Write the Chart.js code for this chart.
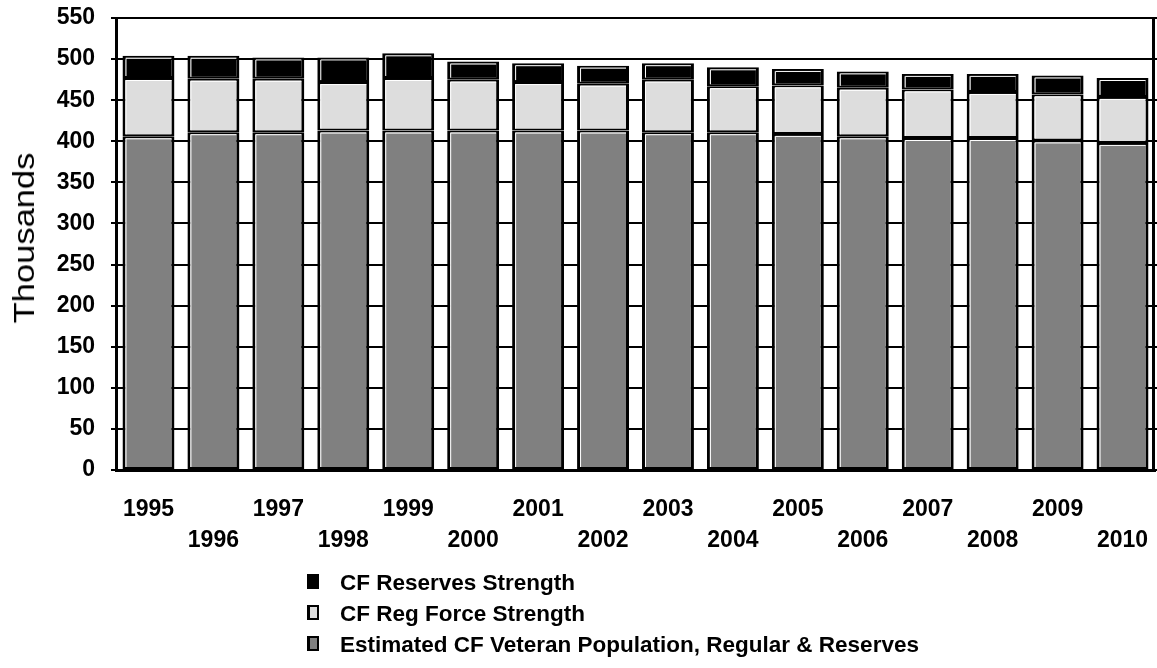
<!DOCTYPE html>
<html>
<head>
<meta charset="utf-8">
<title>CF Veteran Population and CF Strength, 1995–2010</title>
<script src="https://cdn.jsdelivr.net/npm/chart.js@4/dist/chart.umd.min.js"></script>
<style>
  html, body { margin: 0; padding: 0; background: #fff; overflow: hidden; }
  body { width: 1157px; height: 668px; position: relative; font-family: 'Liberation Sans', Arial, sans-serif; }
  #wrap { position: absolute; left: 0; top: 0; width: 1157px; height: 668px; }
  #wrap canvas { display: block; }
  #ytitle { position: absolute; left: 24px; top: 238px; font-size: 30px; line-height: 30px; white-space: nowrap; color: #000;
            transform: translate(-50%, -50%) rotate(-90deg) scaleX(1.15); }
  .lg-row { position: absolute; left: 307px; height: 22px; display: flex; align-items: center; white-space: nowrap; }
  .lg-box { box-sizing: border-box; width: 12px; height: 15px; border: 2px solid #000; border-left-width: 3px; margin-top: -3px; }
  .lg-text { position: absolute; left: 33px; top: 0; font-size: 22.5px; line-height: 22px; font-weight: bold; color: #000; }
</style>
</head>
<body>
<div id="wrap"><canvas id="chart"></canvas></div>
<div id="legend"></div>
<div id="ytitle">Thousands</div>
<script>
// Years on the category axis
const years = [1995, 1996, 1997, 1998, 1999, 2000, 2001, 2002, 2003, 2004, 2005, 2006, 2007, 2008, 2009, 2010];

// Thousands of people per year (stacked bottom to top)
const veteranPopulation = [406, 411, 411, 413, 413, 413, 413, 413, 411, 411, 409, 406, 404, 404, 401, 398];
const regForceStrength  = [71, 65, 65, 59, 64, 62, 59, 57, 64, 56, 59, 59, 59, 56, 56, 56];
const reservesStrength  = [27, 28, 26, 30, 30, 22, 23, 22, 20, 23, 20, 20, 19, 22, 23, 23];

// Value axis ticks
const yTicks = [0, 50, 100, 150, 200, 250, 300, 350, 400, 450, 500, 550];

const FONT = "'Liberation Sans', Arial, sans-serif";

// White inner highlight along the top and left edge of each bar segment
const bevelPlugin = {
  id: 'bevel',
  afterDatasetsDraw(chart) {
    const ctx = chart.ctx;
    ctx.save();
    ctx.strokeStyle = '#ffffff';
    ctx.lineWidth = 1;
    chart.data.datasets.forEach((ds, i) => {
      chart.getDatasetMeta(i).data.forEach(bar => {
        const p = bar.getProps(['x', 'y', 'base', 'width'], true);
        const left = p.x - p.width / 2, right = p.x + p.width / 2;
        const top = Math.min(p.y, p.base), bottom = Math.max(p.y, p.base);
        ctx.beginPath();
        ctx.moveTo(left + 3.5, bottom - 2);
        ctx.lineTo(left + 3.5, top + 2.5);
        ctx.lineTo(right - 3, top + 2.5);
        ctx.stroke();
      });
    });
    ctx.restore();
  }
};

// Closes the plot box on the right and lets grid lines poke through it
const framePlugin = {
  id: 'frame',
  afterDraw(chart) {
    const { ctx, chartArea: a, scales } = chart;
    const y = scales.y;
    ctx.save();
    ctx.strokeStyle = '#000';
    ctx.lineWidth = 2;
    ctx.beginPath();
    y.ticks.forEach(t => {
      const py = Math.round(y.getPixelForValue(t.value));
      ctx.moveTo(a.right - 2, py);
      ctx.lineTo(a.right + 2, py);
    });
    ctx.stroke();
    ctx.lineWidth = 3;
    ctx.beginPath();
    ctx.moveTo(a.right - 1.5, a.top);
    ctx.lineTo(a.right - 1.5, a.bottom);
    ctx.stroke();
    ctx.restore();
  }
};

const segStyle = {
  borderColor: '#000000',
  borderWidth: { top: 2, bottom: 2, left: 3, right: 3 },
  borderSkipped: false,
  categoryPercentage: 1.0,
  barPercentage: 0.8
};

const chart = new Chart(document.getElementById('chart'), {
  type: 'bar',
  data: {
    labels: years.map(String),
    datasets: [
      Object.assign({ label: 'Estimated CF Veteran Population, Regular & Reserves', data: veteranPopulation, backgroundColor: '#808080' }, segStyle),
      Object.assign({ label: 'CF Reg Force Strength', data: regForceStrength, backgroundColor: '#dddddd' }, segStyle),
      Object.assign({ label: 'CF Reserves Strength', data: reservesStrength, backgroundColor: '#000000' }, segStyle)
    ]
  },
  options: {
    responsive: true,
    maintainAspectRatio: false,
    devicePixelRatio: 1,
    animation: false,
    layout: { padding: { top: 18, right: 2, bottom: 78, left: 0 } },
    plugins: {
      legend: { display: false },
      tooltip: { enabled: false }
    },
    scales: {
      x: {
        stacked: true,
        grid: { display: false, drawTicks: false },
        border: { display: true, color: '#000', width: 3 },
        ticks: {
          autoSkip: false,
          maxRotation: 0,
          minRotation: 0,
          padding: 24.5,
          color: '#000',
          font: { family: FONT, size: 23, weight: 'bold', lineHeight: 31 / 23 },
          callback: (v, i) => (i % 2 === 0 ? [String(years[i]), ''] : ['', String(years[i])])
        },
        afterFit: s => { s.height = 120; s.paddingLeft = 0; s.paddingRight = 0; }
      },
      y: {
        stacked: true,
        min: yTicks[0],
        max: yTicks[yTicks.length - 1],
        afterBuildTicks: s => { s.ticks = yTicks.map(v => ({ value: v })); },
        grid: { color: '#000', lineWidth: 2, tickLength: 5, drawTicks: true },
        border: { display: true, color: '#000', width: 3 },
        ticks: {
          padding: 16,
          color: '#000',
          font: { family: FONT, size: 23, weight: 'bold' }
        },
        afterFit: s => { s.width = 116; s.paddingTop = 0; s.paddingBottom = 0; }
      }
    }
  },
  plugins: [bevelPlugin, framePlugin]
});

// Legend, listed top-down in reverse stacking order
const legendEl = document.getElementById('legend');
chart.data.datasets.slice().reverse().forEach((ds, k) => {
  const row = document.createElement('div');
  row.className = 'lg-row';
  row.style.top = (572 + k * 31) + 'px';
  const box = document.createElement('div');
  box.className = 'lg-box';
  box.style.background = ds.backgroundColor;
  const txt = document.createElement('div');
  txt.className = 'lg-text';
  txt.textContent = ds.label;
  row.appendChild(box);
  row.appendChild(txt);
  legendEl.appendChild(row);
});
</script>
</body>
</html>
